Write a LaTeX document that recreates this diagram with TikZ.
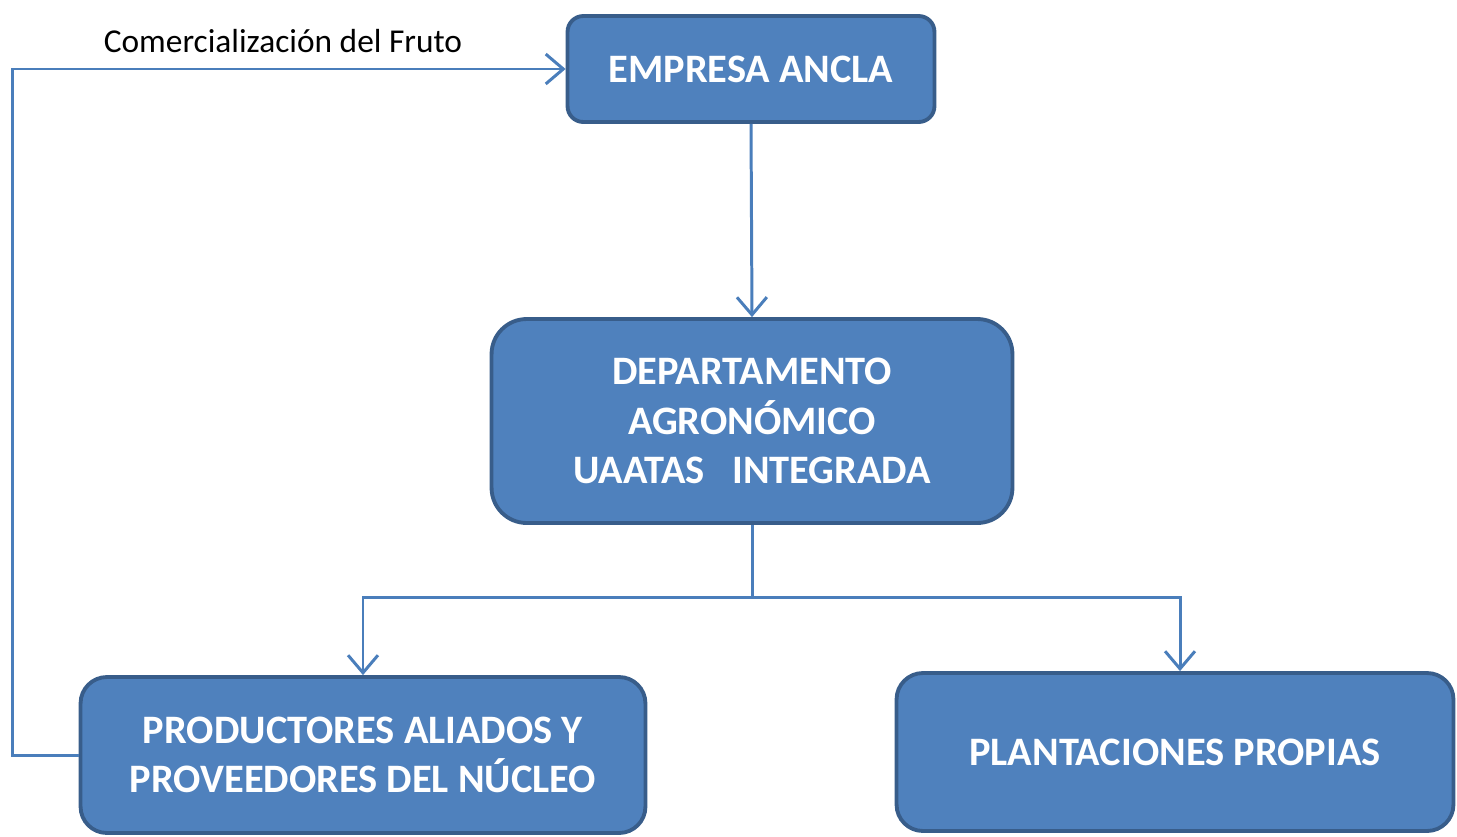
\documentclass[tikz,border=0pt]{standalone}
\usepackage{fontspec}
\setmainfont{Carlito}
\usetikzlibrary{positioning}
\usetikzlibrary{arrows.meta}
\usetikzlibrary{calc}

\definecolor{boxfill}{RGB}{79,129,189}
\definecolor{boxline}{RGB}{56,93,138}
\definecolor{linkcol}{RGB}{74,126,187}

\tikzset{
  caja/.style={draw=boxline, fill=boxfill, line width=2.2pt, rounded corners=#1,
    text=white, font=\fontsize{23}{28}\selectfont\bfseries, align=center, inner sep=0pt},
  caja/.default=9pt,
  link/.style={draw=linkcol, line width=1.7pt, -{Straight Barb[length=10pt,width=17pt,line width=1.7pt]}}
}

\begin{document}
\begin{tikzpicture}[x=0.02cm, y=-0.02cm]
\useasboundingbox (0,0) rectangle (1457,836);

\node[caja, minimum width=7.34cm, minimum height=2.12cm] (empresa) at (751,69) {EMPRESA ANCLA};
\node[caja=20pt, minimum width=10.42cm, minimum height=4.08cm] (depto) at (752,421)
  {DEPARTAMENTO\\AGRONÓMICO\\UAATAS\ \ \ INTEGRADA};
\node[caja=15pt, minimum width=11.3cm, minimum height=3.12cm] (prod) at (363,755)
  {PRODUCTORES ALIADOS Y\\PROVEEDORES DEL NÚCLEO};
\node[caja=15pt, minimum width=11.14cm, minimum height=3.16cm] (plant) at (1175,752) {PLANTACIONES PROPIAS};

\node[font=\fontsize{19}{22}\selectfont] (lblfruto) at (283,41) {Comercialización del Fruto};

% conexiones
\draw[link] (empresa.south) -- (depto.north);
\draw[link] (depto.south) -- ++(0,73) coordinate (split) -| (prod.north);
\draw[link] (split) -| ($(plant.north)+(5,0)$);
\draw[link] (prod.west) -- ++(-66,0) |- (empresa.west);

\end{tikzpicture}
\end{document}
